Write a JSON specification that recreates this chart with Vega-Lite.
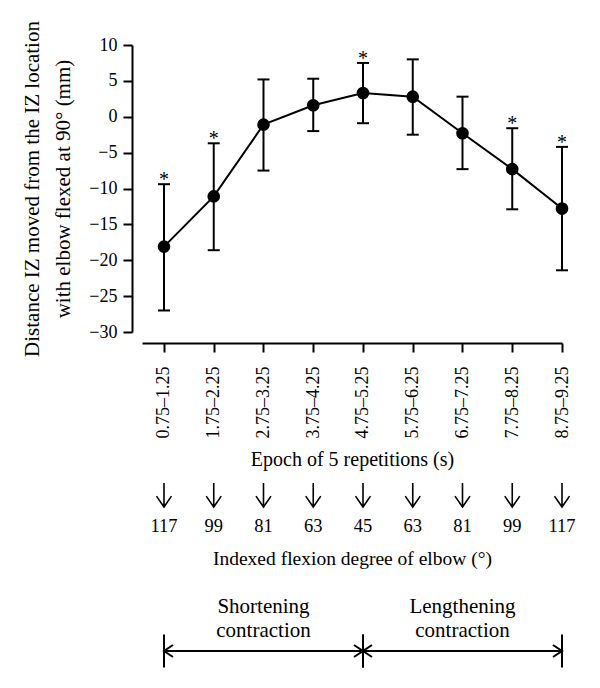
{
  "$schema": "https://vega.github.io/schema/vega-lite/v6.json",
  "background": "white",
  "padding": {"left": 21, "top": 20, "right": 5, "bottom": 5},
  "config": {
    "font": "Liberation Serif",
    "locale": {"number": {"decimal": ".", "thousands": ",", "grouping": [3], "currency": ["$", ""], "minus": "−"}},
    "view": {"stroke": null},
    "axis": {"grid": false, "domainColor": "black", "tickColor": "black", "labelColor": "black", "titleColor": "black", "domainWidth": 2, "tickWidth": 2, "labelFont": "Liberation Serif", "titleFont": "Liberation Serif", "labelFontSize": 18, "titleFontSize": 20, "titleFontWeight": "normal"},
    "text": {"font": "Liberation Serif", "color": "black"}
  },
  "datasets": {
    "points": [
      {"epoch": "0.75–1.25", "degree": 117, "mean": -18.1, "lo": -27.0, "hi": -9.4, "sig": true},
      {"epoch": "1.75–2.25", "degree": 99, "mean": -11.1, "lo": -18.6, "hi": -3.7, "sig": true},
      {"epoch": "2.75–3.25", "degree": 81, "mean": -1.1, "lo": -7.5, "hi": 5.2, "sig": false},
      {"epoch": "3.75–4.25", "degree": 63, "mean": 1.6, "lo": -2.0, "hi": 5.3, "sig": false},
      {"epoch": "4.75–5.25", "degree": 45, "mean": 3.3, "lo": -0.9, "hi": 7.5, "sig": true},
      {"epoch": "5.75–6.25", "degree": 63, "mean": 2.8, "lo": -2.5, "hi": 8.0, "sig": false},
      {"epoch": "6.75–7.25", "degree": 81, "mean": -2.3, "lo": -7.3, "hi": 2.8, "sig": false},
      {"epoch": "7.75–8.25", "degree": 99, "mean": -7.3, "lo": -12.9, "hi": -1.6, "sig": true},
      {"epoch": "8.75–9.25", "degree": 117, "mean": -12.8, "lo": -21.4, "hi": -4.2, "sig": true}
    ],
    "phases": [
      {"label": "Shortening\ncontraction", "start": "0.75–1.25", "end": "4.75–5.25", "mid": "2.75–3.25"},
      {"label": "Lengthening\ncontraction", "start": "4.75–5.25", "end": "8.75–9.25", "mid": "6.75–7.25"}
    ]
  },
  "spacing": 10,
  "vconcat": [
    {
      "width": 420,
      "height": 287,
      "data": {"name": "points"},
      "encoding": {
        "x": {
          "field": "epoch", "type": "ordinal", "sort": null,
          "scale": {"type": "point", "padding": 0.221, "align": 1, "domain": ["0.75–1.25", "1.75–2.25", "2.75–3.25", "3.75–4.25", "4.75–5.25", "5.75–6.25", "6.75–7.25", "7.75–8.25", "8.75–9.25"]},
          "axis": {"title": "Epoch of 5 repetitions (s)", "offset": 11, "tickSize": 9, "labelAngle": -90, "labelPadding": 14, "titlePadding": 11}
        }
      },
      "layer": [
        {
          "mark": {"type": "rule", "color": "black", "strokeWidth": 2},
          "encoding": {
            "y": {"field": "lo", "type": "quantitative", "scale": {"domain": [-30, 10], "nice": false, "zero": false},
              "axis": {"title": ["Distance IZ moved from the IZ location", "with elbow flexed at 90° (mm)"], "titleFontSize": 21, "titleLineHeight": 31, "offset": 10, "tickSize": 9, "labelPadding": 6, "values": [-30, -25, -20, -15, -10, -5, 0, 5, 10], "tickCount": 9, "labelOverlap": false, "titlePadding": 15}},
            "y2": {"field": "hi"}
          }
        },
        {
          "mark": {"type": "tick", "orient": "horizontal", "size": 12, "thickness": 2, "color": "black", "opacity": 1},
          "encoding": {"y": {"field": "lo", "type": "quantitative",
              "axis": {"title": ["Distance IZ moved from the IZ location", "with elbow flexed at 90° (mm)"], "titleFontSize": 21, "titleLineHeight": 31, "offset": 10, "tickSize": 9, "labelPadding": 6, "values": [-30, -25, -20, -15, -10, -5, 0, 5, 10], "tickCount": 9, "labelOverlap": false, "titlePadding": 15}}}
        },
        {
          "mark": {"type": "tick", "orient": "horizontal", "size": 12, "thickness": 2, "color": "black", "opacity": 1},
          "encoding": {"y": {"field": "hi", "type": "quantitative",
              "axis": {"title": ["Distance IZ moved from the IZ location", "with elbow flexed at 90° (mm)"], "titleFontSize": 21, "titleLineHeight": 31, "offset": 10, "tickSize": 9, "labelPadding": 6, "values": [-30, -25, -20, -15, -10, -5, 0, 5, 10], "tickCount": 9, "labelOverlap": false, "titlePadding": 15}}}
        },
        {
          "mark": {"type": "line", "color": "black", "strokeWidth": 2},
          "encoding": {"y": {"field": "mean", "type": "quantitative",
              "axis": {"title": ["Distance IZ moved from the IZ location", "with elbow flexed at 90° (mm)"], "titleFontSize": 21, "titleLineHeight": 31, "offset": 10, "tickSize": 9, "labelPadding": 6, "values": [-30, -25, -20, -15, -10, -5, 0, 5, 10], "tickCount": 9, "labelOverlap": false, "titlePadding": 15}}}
        },
        {
          "mark": {"type": "point", "filled": true, "size": 160, "color": "black", "opacity": 1},
          "encoding": {"y": {"field": "mean", "type": "quantitative",
              "axis": {"title": ["Distance IZ moved from the IZ location", "with elbow flexed at 90° (mm)"], "titleFontSize": 21, "titleLineHeight": 31, "offset": 10, "tickSize": 9, "labelPadding": 6, "values": [-30, -25, -20, -15, -10, -5, 0, 5, 10], "tickCount": 9, "labelOverlap": false, "titlePadding": 15}}}
        },
        {
          "transform": [{"filter": "datum.sig"}],
          "mark": {"type": "text", "text": "*", "fontSize": 20, "baseline": "alphabetic", "dy": 2},
          "encoding": {"y": {"field": "hi", "type": "quantitative",
              "axis": {"title": ["Distance IZ moved from the IZ location", "with elbow flexed at 90° (mm)"], "titleFontSize": 21, "titleLineHeight": 31, "offset": 10, "tickSize": 9, "labelPadding": 6, "values": [-30, -25, -20, -15, -10, -5, 0, 5, 10], "tickCount": 9, "labelOverlap": false, "titlePadding": 15}}}
        }
      ]
    },
    {
      "spacing": 28,
      "vconcat": [
        {
          "width": 420,
          "height": 30,
          "data": {"name": "points"},
          "encoding": {
            "x": {
              "field": "epoch", "type": "ordinal", "sort": null,
              "scale": {"type": "point", "padding": 0.221, "align": 1, "domain": ["0.75–1.25", "1.75–2.25", "2.75–3.25", "3.75–4.25", "4.75–5.25", "5.75–6.25", "6.75–7.25", "7.75–8.25", "8.75–9.25"]},
              "axis": {"title": "Indexed flexion degree of elbow (°)", "titleFontSize": 19.5, "labels": false, "ticks": false, "domain": false, "titlePadding": 39}
            }
          },
          "layer": [
            {"mark": {"type": "point", "shape": "M0,-1.6L0,1.6M-1,0.15L0,1.6L1,0.15", "filled": false, "size": 225, "strokeWidth": 1.6, "color": "black", "opacity": 1}},
            {"mark": {"type": "text", "fontSize": 18.5, "dy": 31, "baseline": "middle", "color": "black"}, "encoding": {"text": {"field": "degree", "type": "nominal"}}}
          ]
        },
        {
          "width": 420,
          "height": 36,
          "data": {"name": "phases"},
          "layer": [
            {
              "mark": {"type": "rule", "color": "black", "strokeWidth": 2},
              "encoding": {
                "x": {"field": "start", "type": "ordinal", "sort": null,
                  "scale": {"type": "point", "padding": 0.221, "align": 1, "domain": ["0.75–1.25", "1.75–2.25", "2.75–3.25", "3.75–4.25", "4.75–5.25", "5.75–6.25", "6.75–7.25", "7.75–8.25", "8.75–9.25"]},
                  "axis": null},
                "x2": {"field": "end"}
              }
            },
            {
              "mark": {"type": "tick", "orient": "vertical", "size": 33, "thickness": 2, "color": "black", "opacity": 1},
              "encoding": {"x": {"field": "start", "type": "ordinal"}}
            },
            {
              "mark": {"type": "tick", "orient": "vertical", "size": 33, "thickness": 2, "color": "black", "opacity": 1},
              "encoding": {"x": {"field": "end", "type": "ordinal"}}
            },
            {
              "mark": {"type": "point", "shape": "M1.5,-1L0,0L1.5,1", "filled": false, "size": 144, "strokeWidth": 2, "color": "black", "opacity": 1},
              "encoding": {"x": {"field": "start", "type": "ordinal"}}
            },
            {
              "mark": {"type": "point", "shape": "M-1.5,-1L0,0L-1.5,1", "filled": false, "size": 144, "strokeWidth": 2, "color": "black", "opacity": 1},
              "encoding": {"x": {"field": "end", "type": "ordinal"}}
            },
            {
              "mark": {"type": "text", "fontSize": 21, "lineBreak": "\n", "lineHeight": 24, "baseline": "middle", "dy": -44, "color": "black"},
              "encoding": {"x": {"field": "mid", "type": "ordinal"}, "text": {"field": "label", "type": "nominal"}}
            }
          ]
        }
      ]
    }
  ]
}
